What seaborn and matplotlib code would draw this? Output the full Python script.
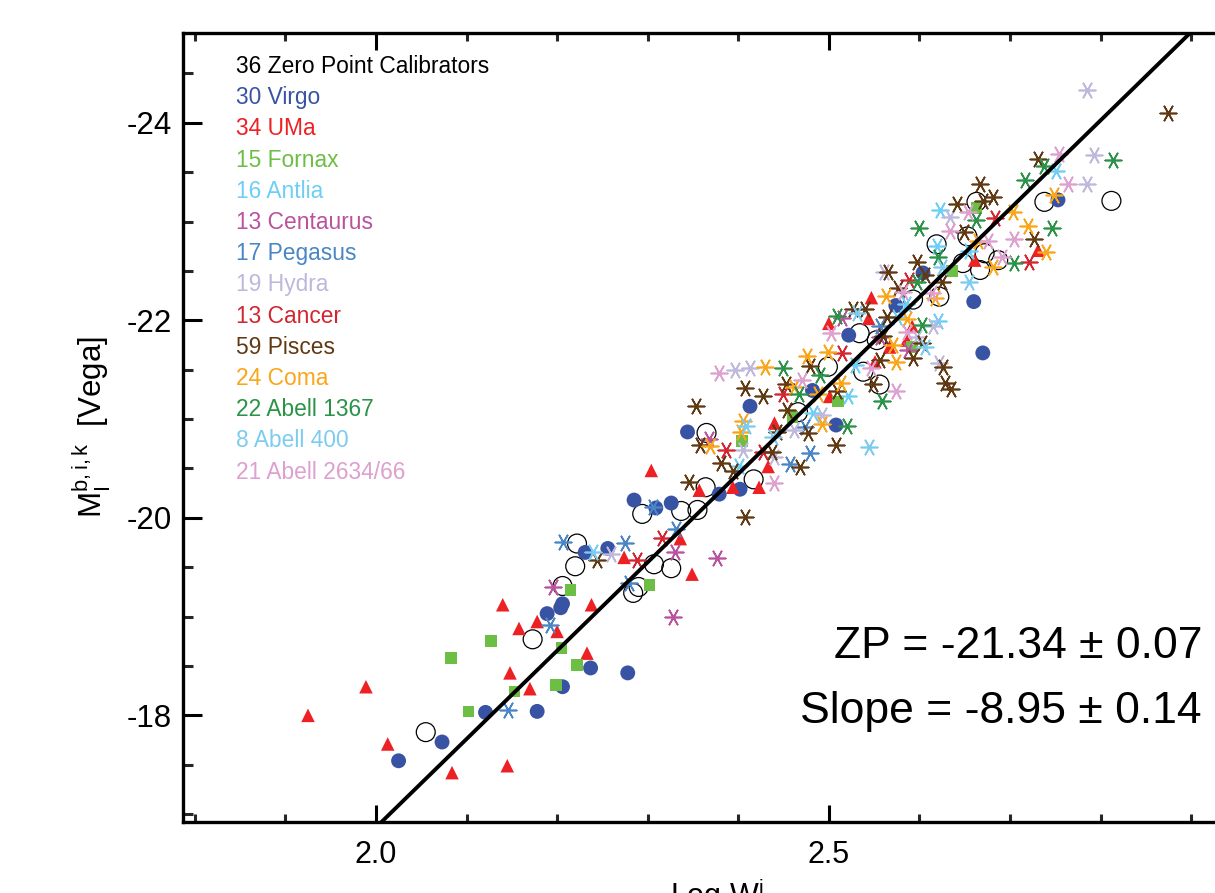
import numpy as np
import pandas as pd
import matplotlib
matplotlib.use("Agg")
import matplotlib.pyplot as plt
import seaborn as sns
from matplotlib.ticker import MultipleLocator

# ---------------- data ----------------
GROUP_NAMES = ["Zero Point Calibrators", "Virgo", "UMa", "Fornax", "Antlia", "Centaurus",
               "Pegasus", "Hydra", "Cancer", "Pisces", "Coma", "Abell 1367", "Abell 400",
               "Abell 2634/66"]
GROUP_COUNTS = [36, 30, 34, 15, 16, 13, 17, 19, 13, 59, 24, 22, 8, 21]

cal_x = [2.294, 2.337, 2.355, 2.222, 2.220, 2.206, 2.173, 2.307, 2.326, 2.284, 2.290, 2.055,
         2.365, 2.364, 2.417, 2.466, 2.499, 2.619, 2.653, 2.672, 2.687, 2.648, 2.667, 2.622,
         2.593, 2.534, 2.556, 2.538, 2.663, 2.738, 2.812, 2.553]
cal_y = [-20.04, -20.07, -20.08, -19.74, -19.51, -19.31, -18.77, -19.53, -19.49, -19.24, -19.30,
         -17.83, -20.86, -20.31, -20.39, -21.07, -21.53, -22.77, -22.85, -22.68, -22.61, -22.58,
         -22.51, -22.24, -22.21, -21.87, -21.35, -21.48, -23.20, -23.20, -23.21, -21.80]

vir_x = [2.285, 2.309, 2.326, 2.231, 2.256, 2.206, 2.204, 2.189, 2.237, 2.278, 2.206, 2.121,
         2.178, 2.073, 2.025, 2.413, 2.344, 2.402, 2.379, 2.508, 2.482, 2.604, 2.660, 2.670,
         2.574, 2.522, 2.753]
vir_y = [-20.18, -20.10, -20.15, -19.65, -19.69, -19.13, -19.09, -19.03, -18.48, -18.43, -18.29,
         -18.03, -18.04, -17.73, -17.54, -21.13, -20.87, -20.29, -20.24, -20.94, -21.29, -22.48,
         -22.19, -21.67, -22.15, -21.85, -23.22]

uma_x = [2.304, 2.274, 2.336, 2.349, 2.140, 2.238, 2.178, 2.158, 2.200, 2.233, 2.148, 2.170,
         1.989, 2.013, 2.084, 2.145, 1.925, 2.357, 2.423, 2.433, 2.394, 2.440, 2.501, 2.500,
         2.661, 2.547, 2.544, 2.592, 2.586, 2.567, 2.551, 2.731]
uma_y = [-20.48, -19.60, -19.79, -19.43, -19.12, -19.12, -18.95, -18.88, -18.85, -18.63, -18.43,
         -18.27, -18.29, -17.71, -17.42, -17.49, -18.00, -20.28, -20.31, -20.52, -20.31, -20.96,
         -21.23, -21.97, -22.61, -22.23, -22.02, -21.94, -21.80, -21.73, -21.58, -22.71]

for_x = [2.215, 2.127, 2.083, 2.205, 2.222, 2.153, 2.199, 2.102, 2.302, 2.404, 2.460, 2.510,
         2.663, 2.636, 2.592]
for_y = [-19.27, -18.75, -18.58, -18.68, -18.51, -18.24, -18.31, -18.04, -19.32, -20.78, -21.02,
         -21.18, -23.14, -22.50, -21.73]

ant_x = [2.401, 2.482, 2.623, 2.619, 2.655, 2.585, 2.575, 2.620, 2.529, 2.521, 2.751]
ant_y = [-20.53, -21.06, -23.12, -22.75, -22.70, -22.17, -22.03, -21.99, -21.55, -21.23, -23.51]

cen_x = [2.196, 2.328, 2.330, 2.368, 2.515, 2.587, 2.376, 2.556]
cen_y = [-19.30, -19.00, -19.65, -20.80, -22.02, -21.70, -19.59, -21.83]

peg_x = [2.206, 2.306, 2.275, 2.192, 2.146, 2.279, 2.331, 2.457, 2.479, 2.556, 2.474]
peg_y = [-19.76, -20.11, -19.75, -18.91, -18.05, -19.34, -19.89, -20.55, -20.66, -21.94, -20.92]

hyd_x = [2.259, 2.396, 2.413, 2.405, 2.440, 2.462, 2.493, 2.634, 2.561, 2.597, 2.615, 2.622,
         2.785, 2.793, 2.785]
hyd_y = [-19.63, -21.50, -21.52, -20.69, -20.62, -20.89, -21.04, -23.05, -22.49, -21.83, -21.94,
         -21.57, -24.33, -23.67, -23.38]

can_x = [2.387, 2.427, 2.449, 2.515, 2.684, 2.589, 2.721, 2.316, 2.288]
can_y = [-20.69, -20.67, -21.25, -21.67, -23.04, -22.41, -22.59, -19.80, -19.57]

pis_x = [2.244, 2.346, 2.408, 2.427, 2.353, 2.358, 2.381, 2.394, 2.437, 2.443, 2.468, 2.508,
         2.477, 2.453, 2.454, 2.479, 2.527, 2.641, 2.649, 2.597, 2.565, 2.606, 2.625, 2.576,
         2.564, 2.560, 2.603, 2.593, 2.626, 2.628, 2.635, 2.549, 2.556, 2.509, 2.875, 2.731,
         2.667, 2.681, 2.670, 2.726, 2.407, 2.540]
pis_y = [-19.57, -20.36, -21.32, -21.23, -21.13, -20.74, -20.56, -20.47, -20.67, -20.87, -20.52,
         -20.74, -20.86, -21.36, -21.09, -21.54, -22.11, -23.18, -22.89, -22.59, -22.49, -22.46,
         -22.39, -22.33, -22.03, -21.84, -21.77, -21.62, -21.53, -21.37, -21.30, -21.36, -21.60,
         -21.28, -24.10, -23.63, -23.38, -23.25, -23.21, -22.82, -20.01, -22.12]

com_x = [2.369, 2.405, 2.403, 2.430, 2.492, 2.488, 2.462, 2.476, 2.499, 2.703, 2.665, 2.681,
         2.617, 2.563, 2.586, 2.571, 2.574, 2.514, 2.749, 2.720, 2.740]
com_y = [-20.73, -20.98, -20.87, -21.53, -20.95, -21.25, -21.33, -21.64, -21.68, -23.10, -22.80,
         -22.54, -22.23, -22.25, -22.01, -21.75, -21.58, -21.37, -23.27, -22.96, -22.69]

a1367_x = [2.449, 2.520, 2.467, 2.490, 2.509, 2.663, 2.600, 2.620, 2.704, 2.597, 2.603, 2.738,
           2.814, 2.717, 2.746, 2.559]
a1367_y = [-21.52, -20.93, -21.25, -21.45, -22.04, -23.02, -22.94, -22.64, -22.58, -22.39, -21.95,
           -23.56, -23.62, -23.42, -22.94, -21.18]

a400_x = [2.544, 2.625, 2.655, 2.409, 2.438, 2.606, 2.240, 2.531]
a400_y = [-20.72, -22.54, -22.39, -20.93, -20.82, -21.73, -19.65, -22.07]

a2634_x = [2.379, 2.439, 2.470, 2.502, 2.654, 2.634, 2.676, 2.705, 2.582, 2.614, 2.586, 2.547,
           2.574, 2.754, 2.764, 2.691]
a2634_y = [-21.47, -20.35, -21.40, -21.87, -23.10, -22.90, -22.80, -22.82, -22.29, -22.28, -21.88,
           -21.52, -21.28, -23.68, -23.38, -22.64]

ZP = -21.34
ZP_ERR = 0.07
SLOPE = -8.95
SLOPE_ERR = 0.14
PIVOT = 2.5

# ---------------- styles ----------------
XS = [cal_x, vir_x, uma_x, for_x, ant_x, cen_x, peg_x, hyd_x, can_x, pis_x, com_x, a1367_x,
      a400_x, a2634_x]
YS = [cal_y, vir_y, uma_y, for_y, ant_y, cen_y, peg_y, hyd_y, can_y, pis_y, com_y, a1367_y,
      a400_y, a2634_y]
COLORS = ["#000000", "#3953A4", "#ED2024", "#6CBE45", "#6DCFF6", "#B9529F", "#4A86C5",
          "#BDB8DC", "#D22630", "#603913", "#FAA61A", "#2B9348", "#7DCCF0", "#DDA0CF"]

frames = []
for name, xs, ys in zip(GROUP_NAMES, XS, YS):
    frames.append(pd.DataFrame({"logW": xs, "M": ys, "group": name}))
df = pd.concat(frames, ignore_index=True)

sns.set_theme(style="white")
plt.rcParams['font.family'] = ['Liberation Sans', 'DejaVu Sans']
plt.rcParams['axes.unicode_minus'] = False
plt.rcParams['mathtext.fontset'] = 'custom'
plt.rcParams['mathtext.rm'] = 'Liberation Sans'
plt.rcParams['mathtext.it'] = 'Liberation Sans'
plt.rcParams['mathtext.bf'] = 'Liberation Sans'

fig = plt.figure(figsize=(12.15, 8.93), dpi=100)
ax = fig.add_axes([183 / 1215, 71 / 893, 1067 / 1215, 789 / 893])

star = (6, 2, 90)
for i, (name, col) in enumerate(zip(GROUP_NAMES, COLORS)):
    sub = df[df["group"] == name]
    if i == 0:
        sns.scatterplot(data=sub, x="logW", y="M", ax=ax, marker="o", s=185,
                        facecolors="none", edgecolor="black", linewidth=0.9, zorder=3,
                        legend=False)
    elif i == 1:
        sns.scatterplot(data=sub, x="logW", y="M", ax=ax, marker="o", s=115, color=col,
                        edgecolor="none", linewidth=0, zorder=3, legend=False)
    elif i == 2:
        sns.scatterplot(data=sub, x="logW", y="M", ax=ax, marker="^", s=95, color=col,
                        edgecolor="none", linewidth=0, zorder=3, legend=False)
    elif i == 3:
        sns.scatterplot(data=sub, x="logW", y="M", ax=ax, marker="s", s=70, color=col,
                        edgecolor="none", linewidth=0, zorder=3, legend=False)
    else:
        sns.scatterplot(data=sub, x="logW", y="M", ax=ax, marker=star, s=140, color=col,
                        linewidth=1.2, zorder=3, legend=False)

ax.collections[0].set_facecolor("none")
ax.collections[0].set_edgecolor("black")

xlim = (1.787, 2.965)
ylim = (-16.92, -24.91)
line_x = np.array(xlim)
line_y = ZP + SLOPE * (line_x - PIVOT)
sns.lineplot(x=line_x, y=line_y, ax=ax, color="black", linewidth=2.8, zorder=5)

ax.set_xlim(*xlim)
ax.set_ylim(*ylim)

ax.xaxis.set_major_locator(MultipleLocator(0.5))
ax.xaxis.set_minor_locator(MultipleLocator(0.1))
ax.yaxis.set_major_locator(MultipleLocator(2))
ax.yaxis.set_minor_locator(MultipleLocator(0.5))
ax.xaxis.set_major_formatter(matplotlib.ticker.FormatStrFormatter("%.1f"))
ax.yaxis.set_major_formatter(matplotlib.ticker.FormatStrFormatter("%d"))

ax.tick_params(axis="x", which="major", direction="in", length=12, width=2.2,
               top=True, bottom=True, labelsize=22, pad=13, colors="black")
ax.tick_params(axis="x", which="minor", direction="in", length=6, width=2.2,
               top=True, bottom=True)
ax.tick_params(axis="y", which="major", direction="in", length=14, width=2.2,
               left=True, right=True, labelsize=22.5, pad=8, colors="black")
ax.tick_params(axis="y", which="minor", direction="in", length=7, width=2.2,
               left=True, right=True)
for sp in ax.spines.values():
    sp.set_linewidth(2.4)
    sp.set_color("black")

ax.set_xlabel(r"Log W$^{\mathrm{i}}$", fontsize=22, labelpad=4, color="black")
ax.set_ylabel(r"$\mathrm{M}_{\mathrm{I}}^{\mathrm{b,i,k}}$  [Vega]", fontsize=22.5,
              labelpad=10, color="black")

# legend-like text list
for k, (name, cnt, col) in enumerate(zip(GROUP_NAMES, GROUP_COUNTS, COLORS)):
    fig.text(236 / 1215, 1 - (66.5 + 31.2 * k) / 893, f"{cnt} {name}", color=col,
             fontsize=16.4, ha="left", va="center")

fig.text(1202 / 1215, 1 - 647 / 893, f"ZP = {ZP:.2f} \u00b1 {ZP_ERR:.2f}", fontsize=32,
         ha="right", va="center", color="black")
fig.text(1202 / 1215, 1 - 712 / 893, f"Slope = {SLOPE:.2f} \u00b1 {SLOPE_ERR:.2f}",
         fontsize=32, ha="right", va="center", color="black")

fig.savefig("out.png", dpi=100)
